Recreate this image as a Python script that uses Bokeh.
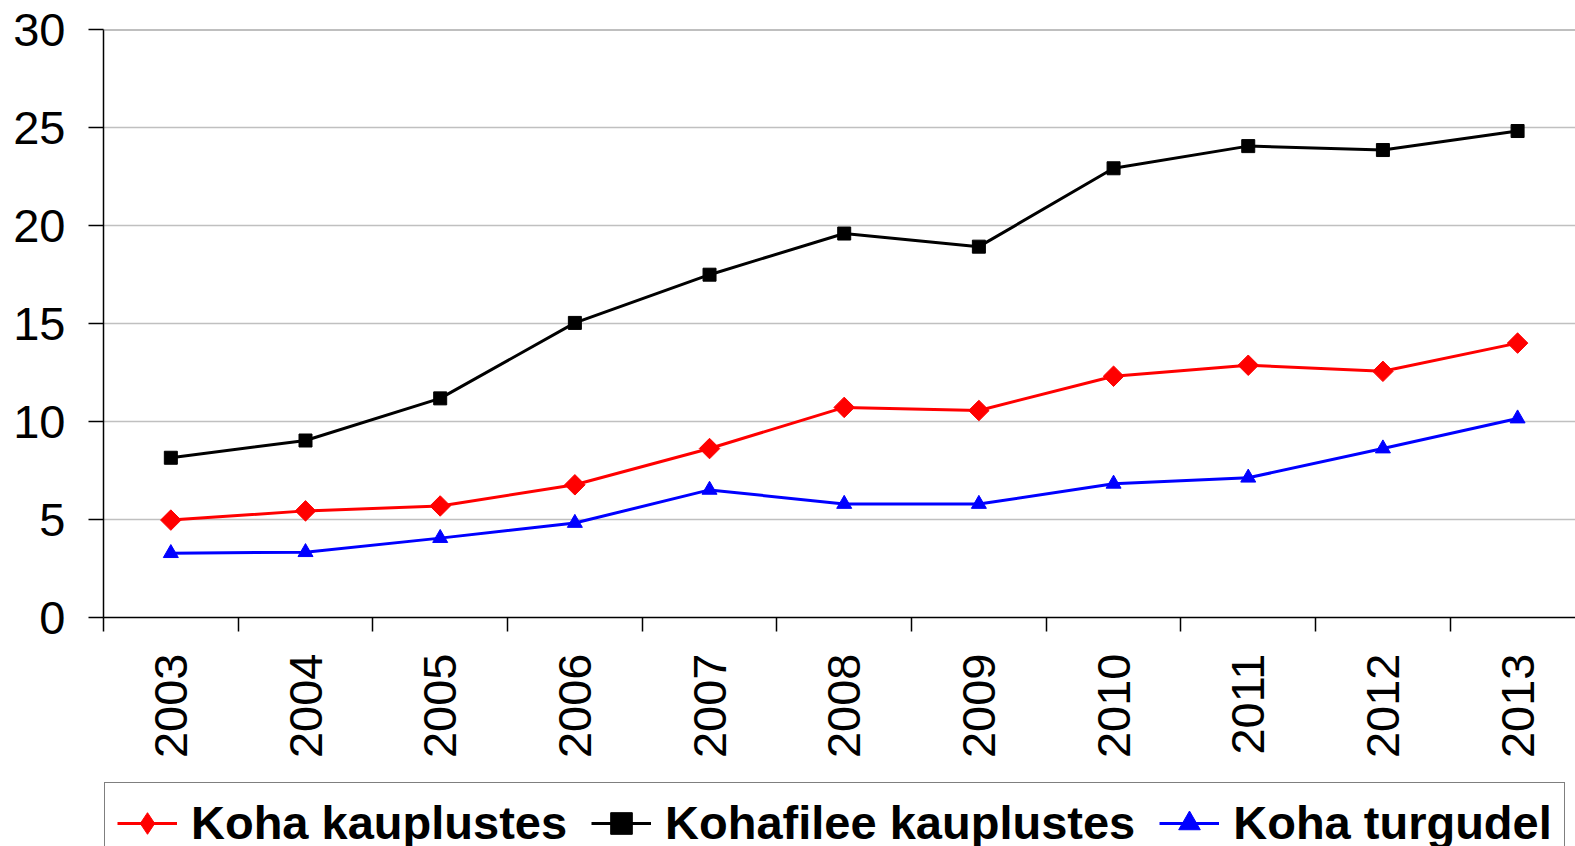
import math
from bokeh.plotting import figure
from bokeh.layouts import column
from bokeh.models import Range1d, FixedTicker, Span, Legend, LegendItem
from bokeh.embed import file_html
from bokeh.resources import INLINE

years = ["2003", "2004", "2005", "2006", "2007", "2008", "2009", "2010", "2011", "2012", "2013"]
koha_kauplustes = [4.97, 5.44, 5.69, 6.77, 8.62, 10.72, 10.56, 12.31, 12.87, 12.56, 14.0]
kohafilee_kauplustes = [8.15, 9.03, 11.18, 15.03, 17.49, 19.59, 18.92, 22.92, 24.05, 23.85, 24.82]
koha_turgudel = [3.28, 3.33, 4.05, 4.82, 6.51, 5.79, 5.79, 6.82, 7.13, 8.62, 10.15]
y_ticks = [0, 5, 10, 15, 20, 25, 30]
series_names = ["Koha kauplustes", "Kohafilee kauplustes", "Koha turgudel"]
series_colors = ["#ff0000", "#000000", "#0000ff"]
series_markers = ["diamond", "square", "triangle"]

FONT = "Liberation Sans"

xs = [i + 0.5 for i in range(len(years))]
boundaries = list(range(len(years) + 1))
series_values = [koha_kauplustes, kohafilee_kauplustes, koha_turgudel]

p = figure(width=1575, height=772, output_backend="svg", toolbar_location=None,
           x_range=Range1d(0, 10.93), y_range=Range1d(y_ticks[0], y_ticks[-1]),
           min_border_left=103, min_border_right=0, min_border_top=29, min_border_bottom=155)
p.outline_line_color = None
p.background_fill_color = "white"
p.border_fill_color = "white"

# x axis
xa = p.xaxis[0]
xa.ticker = FixedTicker(ticks=xs, minor_ticks=boundaries)
xa.major_label_overrides = {x: y for x, y in zip(xs, years)}
xa.major_label_orientation = math.pi / 2
xa.major_tick_line_color = None
xa.major_tick_out = 14
xa.major_tick_in = 0
xa.minor_tick_out = 14
xa.minor_tick_in = 0
xa.minor_tick_line_color = "black"
xa.minor_tick_line_width = 1.5
xa.axis_line_color = "black"
xa.axis_line_width = 1.5
xa.major_label_standoff = 22
xa.major_label_text_font = FONT
xa.major_label_text_font_size = "47px"
xa.major_label_text_color = "black"
p.xgrid.visible = False

# y axis
ya = p.yaxis[0]
ya.ticker = FixedTicker(ticks=y_ticks)
ya.major_tick_out = 15
ya.major_tick_in = 0
ya.major_tick_line_color = "black"
ya.major_tick_line_width = 1.5
ya.minor_tick_line_color = None
ya.axis_line_color = "black"
ya.axis_line_width = 1.5
ya.major_label_standoff = 23
ya.major_label_text_font = FONT
ya.major_label_text_font_size = "47px"
ya.major_label_text_color = "black"
p.ygrid.ticker = FixedTicker(ticks=y_ticks)
p.ygrid.grid_line_color = "#c0c0c0"
p.ygrid.grid_line_width = 1.5

p.add_layout(Span(location=y_ticks[-1], dimension="width", line_color="#808080", line_width=2))


def add_series(fig, xv, yv, color, marker, for_legend=False):
    ln = fig.line(xv, yv, line_color=color, line_width=3)
    if marker == "diamond":
        if for_legend:
            # legend swatches are drawn unrotated, so use Bokeh's own diamond there
            mk = fig.scatter(xv, yv, marker="diamond", size=23, fill_color=color, line_color=color)
        else:
            mk = fig.scatter(xv, yv, marker="square", angle=math.pi / 4, size=14.5,
                             fill_color=color, line_color=color)
    elif marker == "square":
        mk = fig.scatter(xv, yv, marker="square", size=13, fill_color=color, line_color=color)
    else:
        mk = fig.scatter(xv, yv, marker="triangle", size=15, fill_color=color, line_color=color)
    return [ln, mk]


for vals, col, mkr in zip(series_values, series_colors, series_markers):
    add_series(p, xs, vals, col, mkr)

# legend strip (separate canvas below the chart); its renderers carry the same
# series but sit outside this strip's view range, so only the legend shows
lg = figure(width=1575, height=74, output_backend="svg", toolbar_location=None,
            x_axis_location=None, y_axis_location=None,
            x_range=Range1d(-3, -2), y_range=Range1d(0, 1),
            min_border_left=0, min_border_right=0, min_border_top=0, min_border_bottom=0)
lg.grid.visible = False
lg.outline_line_color = None
lg.background_fill_color = "white"
lg.border_fill_color = "white"

items = []
for name, vals, col, mkr in zip(series_names, series_values, series_colors, series_markers):
    rs = add_series(lg, xs, vals, col, mkr, for_legend=True)
    items.append(LegendItem(label=name, renderers=rs))

legend = Legend(items=items, orientation="horizontal", location=(1, -17), padding=12, spacing=24,
                label_standoff=14, glyph_width=60, glyph_height=54, label_height=54,
                label_text_font=FONT, label_text_font_style="bold", label_text_font_size="47px",
                label_text_color="black", border_line_color="black", border_line_width=1.5,
                background_fill_color="white", background_fill_alpha=1.0)
lg.add_layout(legend)

layout = column(p, lg, spacing=0)
open("out.html", "w").write(file_html(layout, INLINE))
